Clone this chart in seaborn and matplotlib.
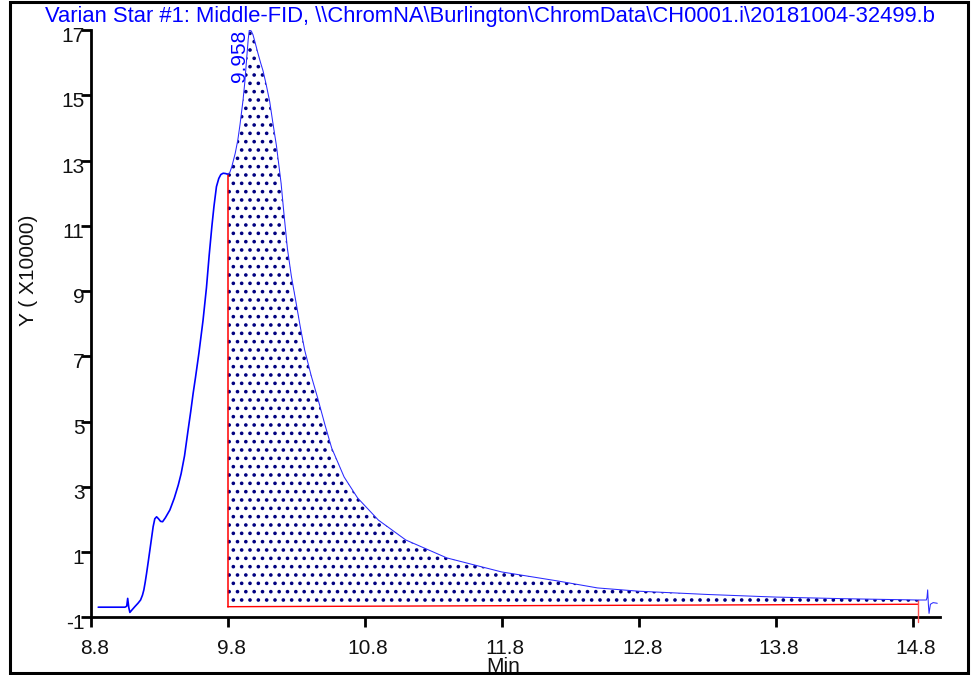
import matplotlib
matplotlib.use("Agg")
import matplotlib.pyplot as plt
from matplotlib.patches import Rectangle
from matplotlib.transforms import ScaledTranslation
import numpy as np
import pandas as pd
import seaborn as sns

# Chromatogram trace: retention time (min) and detector response (x10000)
time_min = [
    8.855, 9.05, 9.063, 9.07, 9.078, 9.086, 9.10, 9.123, 9.145, 9.164,
    9.178, 9.188, 9.198, 9.208, 9.22, 9.232, 9.245, 9.256, 9.268, 9.281,
    9.295, 9.31, 9.325, 9.345, 9.378, 9.41, 9.439, 9.46, 9.485, 9.511,
    9.53, 9.548, 9.565, 9.59, 9.62, 9.645, 9.665, 9.685, 9.70, 9.718,
    9.735, 9.75, 9.767, 9.785, 9.80, 9.815, 9.83, 9.855, 9.874, 9.89,
    9.912, 9.925, 9.94, 9.95, 9.958, 9.972, 9.985, 10.0, 10.02, 10.04,
    10.058, 10.08, 10.107, 10.13, 10.156, 10.19, 10.21, 10.236, 10.265, 10.296,
    10.33, 10.362, 10.41, 10.457, 10.51, 10.559, 10.65, 10.748, 10.9, 11.1,
    11.4, 11.8, 12.2, 12.5, 12.8, 13.3, 13.8, 14.3, 14.84, 14.90,
    14.905, 14.91, 14.915, 14.92, 14.93, 14.95, 14.98,
]
response = [
    -0.69, -0.69, -0.66, -0.42, -0.70, -0.85, -0.78, -0.67, -0.57, -0.47,
    -0.32, -0.16, 0.08, 0.35, 0.70, 1.06, 1.45, 1.78, 2.02, 2.08,
    2.02, 1.94, 1.93, 2.05, 2.29, 2.65, 3.05, 3.40, 3.95, 4.74,
    5.30, 5.87, 6.35, 7.1, 8.1, 9.1, 10.1, 11.0, 11.6, 12.2,
    12.45, 12.57, 12.61, 12.60, 12.58, 12.63, 12.81, 13.22, 13.63, 14.1,
    14.85, 15.4, 16.2, 16.72, 17.0, 16.97, 16.85, 16.62, 16.3, 16.0,
    15.75, 15.35, 14.8, 14.15, 13.45, 12.3, 11.4, 10.3, 9.45, 8.72,
    7.9, 7.19, 6.4, 5.72, 4.9, 4.19, 3.3, 2.66, 1.98, 1.37,
    0.82, 0.39, 0.12, -0.1, -0.2, -0.3, -0.38, -0.43, -0.47, -0.47,
    -0.40, -0.16, -0.60, -0.88, -0.60, -0.55, -0.57,
]

# Integrated peak: start/end times and baseline levels
peak_rt = 9.958
peak_label = "9.958"
peak_start, peak_end = 9.80, 14.84
base_start, base_end = -0.675, -0.60
end_marker_low = -1.13

x_ticks = [8.8, 9.8, 10.8, 11.8, 12.8, 13.8, 14.8]
x_tick_labels = ["8.8", "9.8", "10.8", "11.8", "12.8", "13.8", "14.8"]
y_ticks = [-1, 1, 3, 5, 7, 9, 11, 13, 15, 17]
y_tick_labels = ["-1", "1", "3", "5", "7", "9", "11", "13", "15", "17"]

title = r"Varian Star #1: Middle-FID, \\ChromNA\Burlington\ChromData\CH0001.i\20181004-32499.b"

sns.set_theme(style="white")
plt.rcParams["font.family"] = ["Liberation Sans", "DejaVu Sans"]
plt.rcParams["hatch.color"] = "#000080"
plt.rcParams["hatch.linewidth"] = 1.4

W, H = 971, 675
fig = plt.figure(figsize=(W / 100, H / 100), dpi=100)
ax = fig.add_axes([90.7 / W, 1 - 617.3 / H, (940 - 90.7) / W, (617.3 - 30) / H])

df = pd.DataFrame({"t": time_min, "y": response})
pre = df[df["t"] <= peak_start]
post = df[df["t"] >= peak_start]

sns.lineplot(data=pre, x="t", y="y", ax=ax, color="#0000ff", lw=1.2, zorder=4)
sns.lineplot(data=post, x="t", y="y", ax=ax, color="#2a2aff", lw=0.75, zorder=4)

# Shaded peak area between trace and baseline
area = df[(df["t"] >= peak_start) & (df["t"] <= peak_end)]
t_area = area["t"].to_numpy()
base = np.interp(t_area, [peak_start, peak_end], [base_start, base_end])
ax.fill_between(t_area, base, area["y"].to_numpy(), facecolor="none",
                edgecolor="#000080", hatch="..", linewidth=0, zorder=2)

# Baseline and integration markers
ax.plot([peak_start, peak_end], [base_start, base_end], color="red", lw=1.0, zorder=3)
y_start = np.interp(peak_start, time_min, response)
y_end = np.interp(peak_end, time_min, response)
ax.plot([peak_start, peak_start], [base_start, y_start], color="red", lw=1.1, zorder=3)
ax.plot([peak_end, peak_end], [y_end, end_marker_low], color="#ff5050", lw=1.0,
        zorder=3, clip_on=False)

ax.text(peak_rt, 17.0, peak_label, rotation=90, ha="right", va="top",
        color="#0000ff", fontsize=15, clip_on=False)

ax.set_xlim(8.8, 15.0)
ax.set_ylim(-1, 17)
ax.set_xticks(x_ticks)
ax.set_xticklabels(x_tick_labels)
ax.set_yticks(y_ticks)
ax.set_yticklabels(y_tick_labels)
ax.set_xlabel("")
ax.set_ylabel("")

for side in ["top", "right"]:
    ax.spines[side].set_visible(False)
for side in ["left", "bottom"]:
    ax.spines[side].set_linewidth(2.0)
    ax.spines[side].set_color("black")

ax.tick_params(axis="both", direction="out", length=7.5, width=2.0, color="black",
               labelsize=15, labelcolor="#111111", left=True, bottom=True)
ax.tick_params(axis="x", pad=8)
ax.tick_params(axis="y", pad=-3)

for lab in ax.get_yticklabels():
    lab.set_transform(lab.get_transform() + ScaledTranslation(0, -4.5 / 100, fig.dpi_scale_trans))
for lab in ax.get_xticklabels():
    lab.set_transform(lab.get_transform() + ScaledTranslation(3.5 / 100, 0, fig.dpi_scale_trans))

fig.text(490 / W, 1 - 6 / H, title, ha="center", va="top", color="#0000ff", fontsize=15.85)
fig.text(28 / W, 1 - 270 / H, "Y ( X10000)", rotation=90, ha="center", va="center",
         fontsize=15, color="#111111")
fig.text(503.3 / W, 1 - 657 / H, "Min", ha="center", va="top", fontsize=15, color="#111111")

fig.patches.append(Rectangle((9.5 / W, 1 - 672.5 / H), (967.5 - 9.5) / W, (672.5 - 1.5) / H,
                             transform=fig.transFigure, fill=False, lw=2.2,
                             edgecolor="black", zorder=10))

fig.savefig("out.png", dpi=100, facecolor="white")
